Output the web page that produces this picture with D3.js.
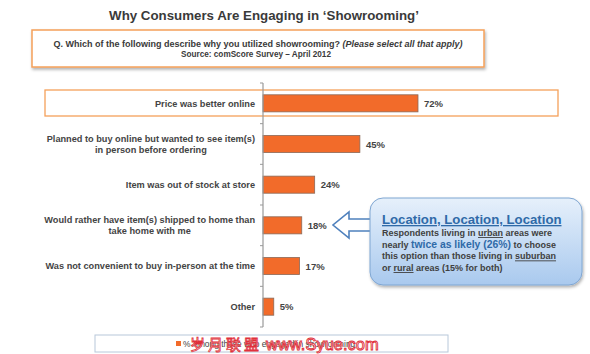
<!DOCTYPE html>
<html>
<head>
<meta charset="utf-8">
<script src="https://cdn.jsdelivr.net/npm/d3@7"></script>
<style>
  body { margin: 0; background: #fff; }
  svg { font-family: "Liberation Sans", Arial, sans-serif; }
</style>
</head>
<body>
<div id="chart"></div>
<script>
// survey answers
const reasons = [
    ["Price was better online"],
    ["Planned to buy online but wanted to see item(s)", "in person before ordering"],
    ["Item was out of stock at store"],
    ["Would rather have item(s) shipped to home than", "take home with me"],
    ["Was not convenient to buy in-person at the time"],
    ["Other"]
];
const shares = [72, 45, 24, 18, 17, 5];
const legendLabel = "% Among those who engaged in showrooming";

const width = 590, height = 354;
const orange = "#f26b2a", grey = "#444";

const svg = d3.select("#chart").append("svg")
    .attr("width", width)
    .attr("height", height);

const defs = svg.append("defs");
const grad = defs.append("linearGradient").attr("id", "callFill")
    .attr("x1", 0).attr("y1", 0).attr("x2", 0).attr("y2", 1);
grad.append("stop").attr("offset", "0%").attr("stop-color", "#e6f0fb");
grad.append("stop").attr("offset", "100%").attr("stop-color", "#a9c9ee");
const shadow = defs.append("filter").attr("id", "shadow")
    .attr("x", "-10%").attr("y", "-10%").attr("width", "130%").attr("height", "140%");
shadow.append("feDropShadow").attr("dx", 1).attr("dy", 2).attr("stdDeviation", 1.5)
    .attr("flood-color", "#000").attr("flood-opacity", 0.3);

// title
svg.append("text")
    .attr("x", 264).attr("y", 20)
    .attr("text-anchor", "middle")
    .attr("font-size", 13.3).attr("font-weight", "bold")
    .attr("fill", "#3a3a3a")
    .text("Why Consumers Are Engaging in \u2018Showrooming\u2019");

// question box
svg.append("rect")
    .attr("x", 32).attr("y", 30).attr("width", 452).attr("height", 37)
    .attr("fill", "#fff").attr("stroke", "#f5a05a").attr("stroke-width", 1.5)
    .attr("filter", "url(#shadow)");
const q = svg.append("text")
    .attr("x", 258).attr("y", 46.5)
    .attr("text-anchor", "middle")
    .attr("font-size", 9).attr("font-weight", "bold")
    .attr("fill", "#3a3a3a");
q.append("tspan").text("Q. Which of the following describe why you utilized showrooming? ");
q.append("tspan").attr("font-style", "italic").text("(Please select all that apply)");
svg.append("text")
    .attr("x", 256).attr("y", 57)
    .attr("text-anchor", "middle")
    .attr("font-size", 8.2).attr("font-weight", "bold")
    .attr("fill", "#3a3a3a")
    .text("Source: comScore Survey \u2013 April 2012");

// scales
const x0 = 263;
const x = d3.scaleLinear().domain([0, 72]).range([x0, 418]);
const y = d3.scaleBand()
    .domain(d3.range(reasons.length))
    .range([83, 327])
    .paddingInner(0.58).paddingOuter(0.29);

// highlight box on first row
svg.append("rect")
    .attr("x", 45).attr("y", 90).attr("width", 513).attr("height", 26)
    .attr("fill", "none").attr("stroke", "#f5a05a").attr("stroke-width", 1.3);

// bars
svg.append("g").selectAll("rect")
    .data(shares)
    .join("rect")
    .attr("x", x0)
    .attr("y", (d, i) => y(i))
    .attr("width", d => x(d) - x0)
    .attr("height", y.bandwidth())
    .attr("fill", orange)
    .attr("stroke", "#8a6a5a").attr("stroke-width", 0.8);

// values
svg.append("g").selectAll("text")
    .data(shares)
    .join("text")
    .attr("x", d => x(d) + 6)
    .attr("y", (d, i) => y(i) + y.bandwidth() / 2 + 3.5)
    .attr("font-size", 9.5).attr("font-weight", "bold")
    .attr("fill", grey)
    .text(d => d + "%");

// category labels
const lab = svg.append("g").selectAll("text")
    .data(reasons)
    .join("text")
    .attr("text-anchor", "end")
    .attr("font-size", 9.2).attr("font-weight", "bold")
    .attr("fill", grey)
    .attr("y", (d, i) => y(i) + y.bandwidth() / 2 + 3.2 - (d.length - 1) * 5.2);
lab.selectAll("tspan")
    .data(d => d)
    .join("tspan")
    .attr("x", (d, i) => i === 0 ? 255 : null)
    .attr("dy", (d, i) => i === 0 ? 0 : 10.5)
    .text(d => d);
// second lines are centred under the first in the picture
lab.each(function(d) {
    if (d.length < 2) return;
    const spans = d3.select(this).selectAll("tspan").nodes();
    const w0 = spans[0].getComputedTextLength();
    spans[1].setAttribute("x", 255 - w0 / 2);
    spans[1].setAttribute("text-anchor", "middle");
});

// axis line with ticks on the left
const axis = svg.append("g").attr("transform", `translate(${x0},0)`);
axis.append("line")
    .attr("y1", 83).attr("y2", 327)
    .attr("stroke", "#999").attr("stroke-width", 1.2);
const tickYs = y.domain().map(i => y(i) - y.step() * y.paddingInner() / 2).concat([327]);
axis.selectAll("line.tick")
    .data(tickYs)
    .join("line").attr("class", "tick")
    .attr("x1", -3).attr("x2", 0)
    .attr("y1", d => d).attr("y2", d => d)
    .attr("stroke", "#999");

// legend
svg.append("rect")
    .attr("x", 95).attr("y", 335).attr("width", 353).attr("height", 17)
    .attr("fill", "#fff").attr("stroke", "#b8c8da").attr("stroke-width", 1);
svg.append("rect")
    .attr("x", 176).attr("y", 341).attr("width", 5).attr("height", 5)
    .attr("fill", orange);
svg.append("text")
    .attr("x", 183).attr("y", 346.5)
    .attr("font-size", 8.4).attr("fill", grey)
    .text(legendLabel);

// watermark over the legend
svg.append("text")
    .attr("x", 190).attr("y", 350)
    .attr("font-family", "Noto Sans CJK SC")
    .attr("font-size", 15).attr("letter-spacing", 3)
    .attr("fill", "#fff").attr("stroke", "#e0303a").attr("stroke-width", 0.8)
    .text("岁月联盟");
svg.append("text")
    .attr("x", 266).attr("y", 350)
    .attr("font-size", 16.5)
    .attr("fill", "#fff").attr("stroke", "#e0303a").attr("stroke-width", 0.9)
    .text("www.Syue.com");

// callout arrow
const arrow = d3.path();
arrow.moveTo(372, 219);
arrow.lineTo(349, 219);
arrow.lineTo(349, 212);
arrow.lineTo(333, 225);
arrow.lineTo(349, 238);
arrow.lineTo(349, 231);
arrow.lineTo(372, 231);
svg.append("path")
    .attr("d", arrow.toString())
    .attr("fill", "#fff").attr("stroke", "#4f81bd").attr("stroke-width", 1.6);

// callout box
svg.append("rect")
    .attr("x", 370).attr("y", 198).attr("width", 212).attr("height", 87)
    .attr("rx", 13)
    .attr("fill", "url(#callFill)").attr("stroke", "#7fa6d2").attr("stroke-width", 1)
    .attr("filter", "url(#shadow)");
svg.append("text")
    .attr("x", 382).attr("y", 224)
    .attr("font-size", 13.2).attr("font-weight", "bold")
    .attr("fill", "#2f6aa8").attr("text-decoration", "underline")
    .text("Location, Location, Location");

const body = [
    [["Respondents living in ", 0], ["urban", 1], [" areas were", 0]],
    [["nearly ", 0], [" twice as likely (26%)", 2], [" to choose", 0]],
    [["this option than those living in ", 0], ["suburban", 1]],
    [["or ", 0], ["rural", 1], [" areas (15% for both)", 0]]
];
svg.append("g").selectAll("text")
    .data(body)
    .join("text")
    .attr("x", 382)
    .attr("y", (d, i) => 236 + i * 11.7)
    .attr("font-size", 9).attr("font-weight", "bold")
    .attr("fill", "#404040")
    .selectAll("tspan")
    .data(d => d)
    .join("tspan")
    .attr("text-decoration", d => d[1] === 1 ? "underline" : null)
    .attr("fill", d => d[1] === 2 ? "#2f6aa8" : null)
    .attr("font-size", d => d[1] === 2 ? 10.4 : null)
    .text(d => d[0]);
</script>
</body>
</html>
